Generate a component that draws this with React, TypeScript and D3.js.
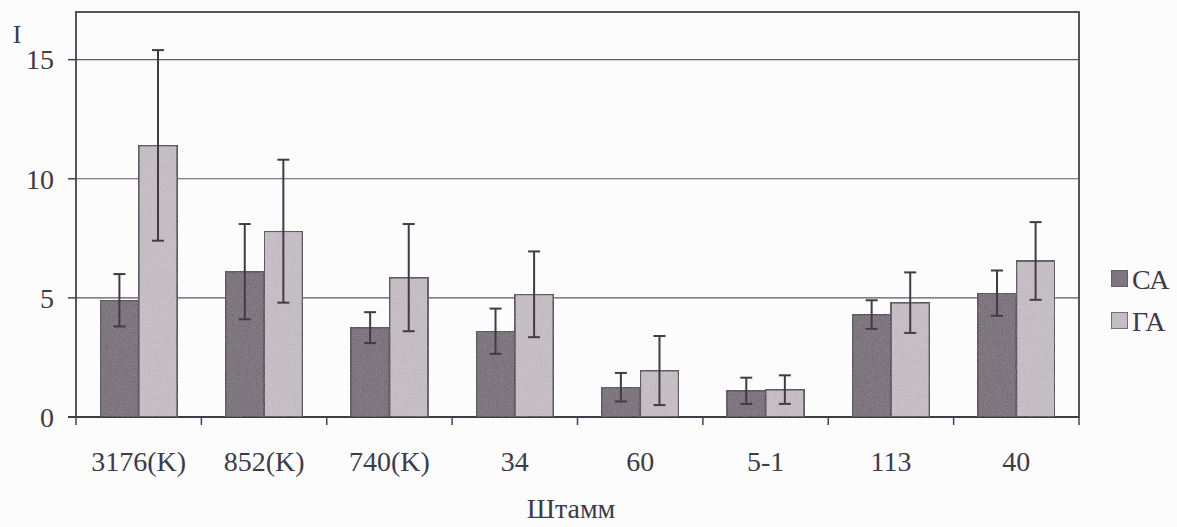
import React from "react";
import * as d3 from "d3";

const categories = ["3176(K)", "852(K)", "740(K)", "34", "60", "5-1", "113", "40"];
const seriesNames = ["СА", "ГА"];
const caValues = [4.9, 6.1, 3.75, 3.6, 1.25, 1.1, 4.3, 5.2];
const caErrors = [1.1, 2.0, 0.65, 0.95, 0.6, 0.55, 0.6, 0.95];
const gaValues = [11.4, 7.8, 5.85, 5.15, 1.95, 1.15, 4.8, 6.55];
const gaErrors = [4.0, 3.0, 2.25, 1.8, 1.45, 0.6, 1.27, 1.63];
const yTicks = [0, 5, 10, 15];

const W = 1177;
const H = 527;
const left = 76;
const right = 1079;
const top = 12;
const bottom = 417;

export default function App() {
  const x = d3.scaleBand<string>().domain(categories).range([left, right]).paddingInner(0).paddingOuter(0);
  const y = d3.scaleLinear().domain([0, 17]).range([bottom, top]);
  const bw = x.bandwidth();
  const barW = bw / (2 + 1.25);
  const gap = (bw - 2 * barW) / 2;
  const colors = ["#6f6571", "#c6bec6"];
  const stroke = "#433947";
  const font = "Liberation Serif";
  const textColor = "#3f3a45";
  const series = [
    { vals: caValues, errs: caErrors },
    { vals: gaValues, errs: gaErrors },
  ];

  return (
    <svg width={W} height={H} style={{ position: "absolute", left: 0, top: 0, background: "#fdfcfd" }}>
      <defs>
        <filter id="grain" x="0" y="0" width="100%" height="100%">
          <feTurbulence type="fractalNoise" baseFrequency="0.9" numOctaves="2" result="n" />
          <feColorMatrix in="n" type="saturate" values="0" result="g" />
          <feComponentTransfer in="g" result="g2">
            <feFuncA type="linear" slope="0.3" />
          </feComponentTransfer>
          <feComposite in="g2" in2="SourceGraphic" operator="in" result="c" />
          <feMerge>
            <feMergeNode in="SourceGraphic" />
            <feMergeNode in="c" />
          </feMerge>
        </filter>
      </defs>
      {yTicks.filter((t) => t > 0).map((t) => (
        <line key={t} x1={left} x2={right} y1={y(t)} y2={y(t)} stroke="#5f5763" strokeWidth={1.2} />
      ))}
      <rect x={left} y={top} width={right - left} height={bottom - top} fill="none" stroke="#4a4050" strokeWidth={1.8} />
      {yTicks.map((t) => (
        <g key={t}>
          <line x1={left - 8} x2={left} y1={y(t)} y2={y(t)} stroke="#4a4050" strokeWidth={1.5} />
          <text x={54} y={y(t)} dy="0.35em" textAnchor="end" fontFamily={font} fontSize={28} fill={textColor}>
            {t}
          </text>
        </g>
      ))}
      <text x={17} y={43} textAnchor="middle" fontFamily={font} fontSize={26} fill={textColor}>I</text>
      <line x1={left - 8} x2={right} y1={bottom} y2={bottom} stroke={stroke} strokeWidth={2.2} />
      {categories.map((c) => (
        <line key={"t" + c} x1={x(c)!} x2={x(c)!} y1={bottom} y2={bottom + 8} stroke="#4a4050" strokeWidth={1.5} />
      ))}
      <line x1={right} x2={right} y1={bottom} y2={bottom + 8} stroke="#4a4050" strokeWidth={1.5} />
      {categories.map((c, i) => (
        <g key={c}>
          {series.map((s, k) => {
            const bx = x(c)! + gap + k * barW;
            return (
              <rect
                key={k}
                x={bx}
                y={y(s.vals[i])}
                width={barW}
                height={bottom - y(s.vals[i])}
                fill={colors[k]}
                stroke={stroke}
                strokeWidth={1.8}
                filter="url(#grain)"
              />
            );
          })}
          {series.map((s, k) => {
            const cx = x(c)! + gap + k * barW + barW / 2;
            const hi = y(s.vals[i] + s.errs[i]);
            const lo = y(s.vals[i] - s.errs[i]);
            return (
              <g key={"e" + k} stroke={stroke} strokeWidth={2}>
                <line x1={cx} x2={cx} y1={hi} y2={lo} />
                <line x1={cx - 6} x2={cx + 6} y1={hi} y2={hi} />
                <line x1={cx - 6} x2={cx + 6} y1={lo} y2={lo} />
              </g>
            );
          })}
          <text x={x(c)! + bw / 2} y={471} textAnchor="middle" fontFamily={font} fontSize={28} fill={textColor}>
            {c}
          </text>
        </g>
      ))}
      <text x={571} y={518} textAnchor="middle" fontFamily={font} fontSize={28} fill={textColor}>Штамм</text>
      {seriesNames.map((n, k) => (
        <g key={n}>
          <rect x={1111} y={270 + k * 42} width={17} height={17} fill={colors[k]} stroke={stroke} strokeWidth={1.5} filter="url(#grain)" />
          <text x={1132} y={289 + k * 42} fontFamily={font} fontSize={28} fill={textColor}>{n}</text>
        </g>
      ))}
    </svg>
  );
}
